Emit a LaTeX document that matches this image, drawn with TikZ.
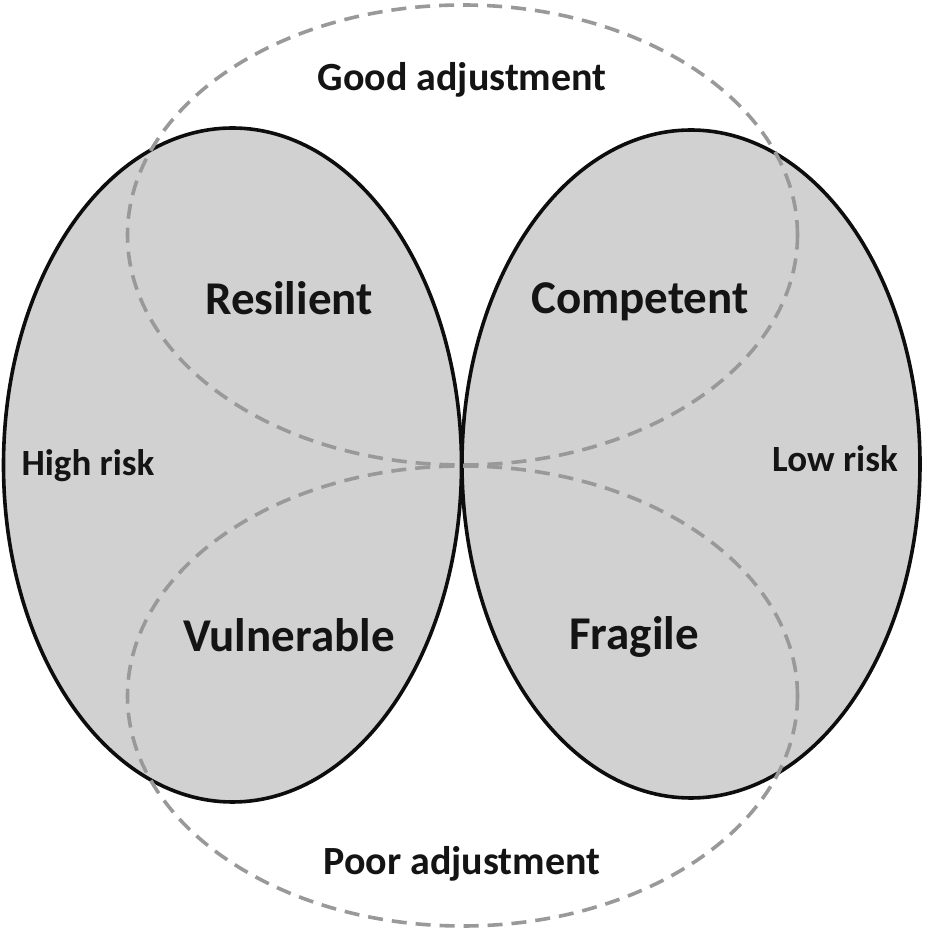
\documentclass[tikz,border=0pt]{standalone}
\usepackage{fontspec}
\setmainfont{Carlito}
\begin{document}
\begin{tikzpicture}[x=1pt,y=1pt,
  blob/.style={draw=black!95,fill=black!18,line width=3.6pt},
  adj/.style={draw=black!40,line width=3.6pt,dash pattern=on 15pt off 9pt},
  big/.style={font=\fontsize{47}{54}\selectfont\bfseries,text=black!92},
  mid/.style={font=\fontsize{40}{46}\selectfont\bfseries,text=black!92},
  small/.style={font=\fontsize{37}{42}\selectfont\bfseries,text=black!92}]
\useasboundingbox (0,0) rectangle (925,929);
\path[blob] (232.5,464) ellipse [x radius=229, y radius=337];
\path[blob] (691,465) ellipse [x radius=229, y radius=334];
\path[adj] (462.5,694) ellipse [x radius=335, y radius=230];
\path[adj] (462.5,233) ellipse [x radius=335, y radius=230];
\node[mid] (good) at (462,849) {Good adjustment};
\node[mid] (poor) at (462,65) {Poor adjustment};
\node[big] (res) at (289,631) {Resilient};
\node[big] (comp) at (640,627) {Competent};
\node[big] (vul) at (289,294) {Vulnerable};
\node[big] (frag) at (634,292) {Fragile};
\node[small] (high) at (88,463) {High risk};
\node[small] (low) at (835,470) {Low risk};
\end{tikzpicture}
\end{document}
